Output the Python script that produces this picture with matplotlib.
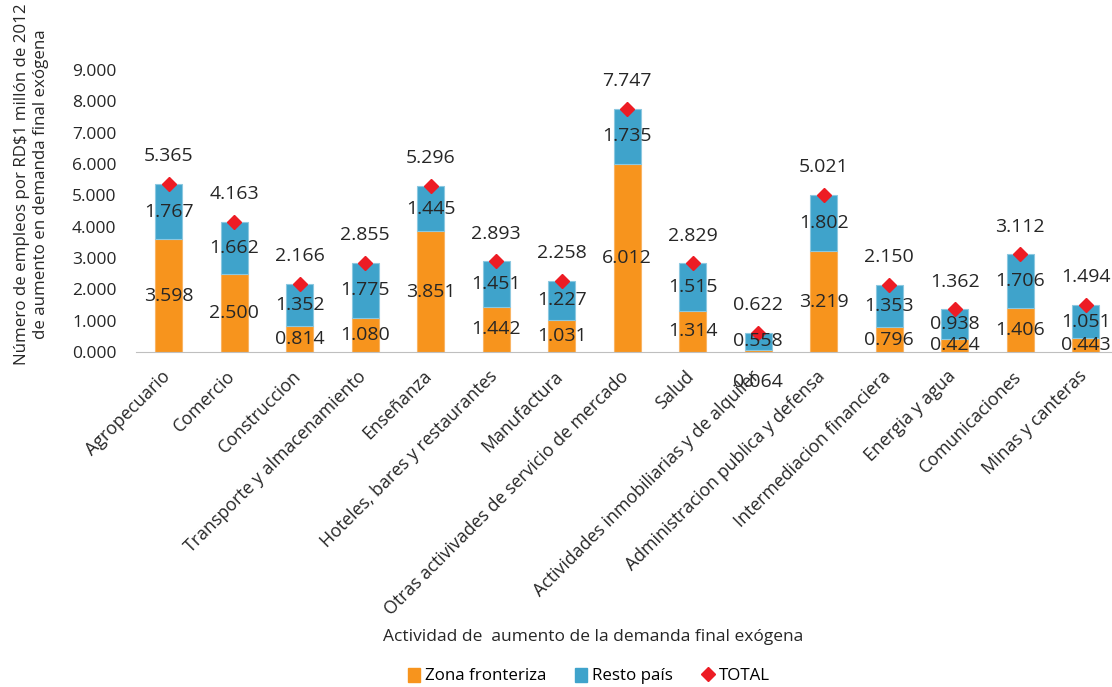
import matplotlib
matplotlib.use("Agg")
import matplotlib.pyplot as plt
from matplotlib.lines import Line2D
from matplotlib.patches import Patch
import numpy as np

plt.rcParams['font.family'] = ['Open Sans', 'DejaVu Sans']

# datos
actividades = ["Agropecuario", "Comercio", "Construccion", "Transporte y almacenamiento",
               "Enseñanza", "Hoteles, bares y restaurantes", "Manufactura",
               "Otras activivades de servicio de mercado", "Salud",
               "Actividades inmobiliarias y de alquiler", "Administracion publica y defensa",
               "Intermediacion financiera", "Energia y agua", "Comunicaciones", "Minas y canteras"]
zona = [3.598, 2.500, 0.814, 1.080, 3.851, 1.442, 1.031, 6.012, 1.314, 0.064, 3.219, 0.796, 0.424, 1.406, 0.443]
resto = [1.767, 1.662, 1.352, 1.775, 1.445, 1.451, 1.227, 1.735, 1.515, 0.558, 1.802, 1.353, 0.938, 1.706, 1.051]
total = [5.365, 4.163, 2.166, 2.855, 5.296, 2.893, 2.258, 7.747, 2.829, 0.622, 5.021, 2.150, 1.362, 3.112, 1.494]

naranja = "#F7941D"
azul = "#3FA3CB"
rojo = "#ED1C24"
texto = "#262626"

fig = plt.figure(figsize=(11.12, 6.87), dpi=100)
ax = fig.add_axes([136/1112, 335/687, 976/1112, 282/687])

x = np.arange(len(actividades))
ancho = 0.41
ax.bar(x, zona, ancho, color=naranja, edgecolor="#F9B463", linewidth=0.8, zorder=2)
ax.bar(x, resto, ancho, bottom=zona, color=azul, edgecolor="#8CC8E0", linewidth=0.8, zorder=2)
ax.plot(x, total, linestyle="none", marker="D", markersize=7.5, color=rojo, zorder=3)

fs = 14
for i in range(len(x)):
    dy = 0
    if zona[i] < 0.2:
        dy = -22  # etiqueta desplazada debajo del eje
    ax.annotate(f"{zona[i]:.3f}", (x[i], zona[i] / 2), xytext=(0, dy), textcoords="offset points",
                ha="center", va="center", fontsize=fs, color=texto, zorder=4, annotation_clip=False)
    ax.annotate(f"{resto[i]:.3f}", (x[i], zona[i] + resto[i] / 2), ha="center", va="center",
                fontsize=fs, color=texto, zorder=4)
    ax.annotate(f"{total[i]:.3f}", (x[i], total[i]), xytext=(0, 20), textcoords="offset points",
                ha="center", va="center", fontsize=fs, color=texto, zorder=4)

ax.set_xlim(-0.5, -0.5 + 976 / 65.5)
ax.set_ylim(0, 9)
ax.set_yticks(np.arange(0, 10, 1))
ax.set_yticklabels([f"{v:.3f}" for v in range(10)], fontsize=12.5, color=texto)
# etiquetas un poco a la izquierda del centro de la barra
ax.set_xticks(x - 0.12)
ax.set_xticklabels(actividades, rotation=45, ha="right", va="top", rotation_mode="anchor",
                   fontsize=12.8, color=texto)
ax.tick_params(axis="both", length=0)
ax.tick_params(axis="x", pad=11)
ax.tick_params(axis="y", pad=14)
for lado in ["top", "right", "left"]:
    ax.spines[lado].set_visible(False)
ax.spines["bottom"].set_color("#BFBFBF")

fig.text(0.028, 1 - 184 / 687, "Número de empleos por RD$1 millón de 2012\nde aumento en demanda final exógena",
         rotation=90, ha="center", va="center", fontsize=12.2, color=texto, linespacing=1.25)
fig.text(593 / 1112, 1 - 637 / 687, "Actividad de  aumento de la demanda final exógena",
         ha="center", va="center", fontsize=12.5, color=texto)

handles = [Patch(color=naranja), Patch(color=azul),
           Line2D([], [], linestyle="none", marker="D", color=rojo, markersize=7)]
fig.legend(handles, ["Zona fronteriza", "Resto país", "TOTAL"], loc="center",
           bbox_to_anchor=(589 / 1112, 1 - 676 / 687), ncol=3, frameon=False, fontsize=12.2,
           handlelength=0.7, handleheight=0.9, handletextpad=0.3, columnspacing=1.7)

fig.savefig("out.png", dpi=100)
